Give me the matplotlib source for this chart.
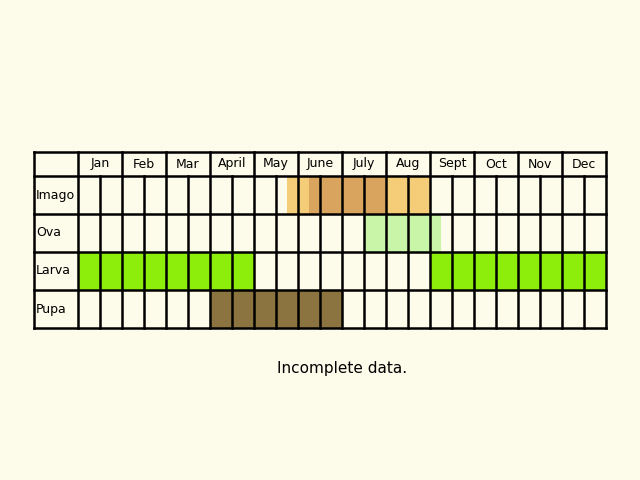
import matplotlib.pyplot as plt
from matplotlib.patches import Rectangle

months = ['Jan', 'Feb', 'Mar', 'April', 'May', 'June', 'July', 'Aug', 'Sept', 'Oct', 'Nov', 'Dec']
stages = ['Imago', 'Ova', 'Larva', 'Pupa']

# periods in half-month slots (0 = first half of Jan), (start, end, colour)
periods = {
    'Imago': [(9.5, 16, '#f5cd78'), (10.5, 14, '#d9a45e')],
    'Ova': [(13, 16.5, '#c9f5a8')],
    'Larva': [(0, 8, '#8cee0a'), (16, 24, '#8cee0a')],
    'Pupa': [(6, 12, '#8c7440')],
}

bg = '#fdfbea'
fig = plt.figure(figsize=(6.4, 4.8), dpi=100, facecolor=bg)
ax = fig.add_axes([34 / 640, 1 - 328 / 480, 572 / 640, 176 / 480])
ax.set_facecolor(bg)
head = 24 / 38
ax.set_xlim(-2, 24)
ax.set_ylim(len(stages) + head, 0)
ax.axis('off')

for i, st in enumerate(stages):
    y0 = head + i
    for a, b, c in periods[st]:
        ax.add_patch(Rectangle((a, y0), b - a, 1, color=c, lw=0, zorder=1))
    ax.text(-1.9, y0 + 0.5, st, ha='left', va='center', fontsize=9, zorder=3)

for j, m in enumerate(months):
    ax.text(2 * j + 1, head / 2, m, ha='center', va='center', fontsize=9, zorder=3)

lw = 1.8
ytop, ybot = 0, len(stages) + head
for k in range(-2, 25, 1):
    if k == -1:
        continue
    if k % 2 == 0 or k < 0:
        ax.plot([k, k], [ytop, ybot], color='black', lw=lw, zorder=2, clip_on=False)
    else:
        ax.plot([k, k], [head, ybot], color='black', lw=lw, zorder=2, clip_on=False)
for y in [0, head] + [head + i + 1 for i in range(len(stages))]:
    ax.plot([-2, 24], [y, y], color='black', lw=lw, zorder=2, clip_on=False)

fig.text(342 / 640, 1 - 368 / 480, 'Incomplete data.', ha='center', va='center', fontsize=11)
fig.savefig('out.png', dpi=100, facecolor=bg)
